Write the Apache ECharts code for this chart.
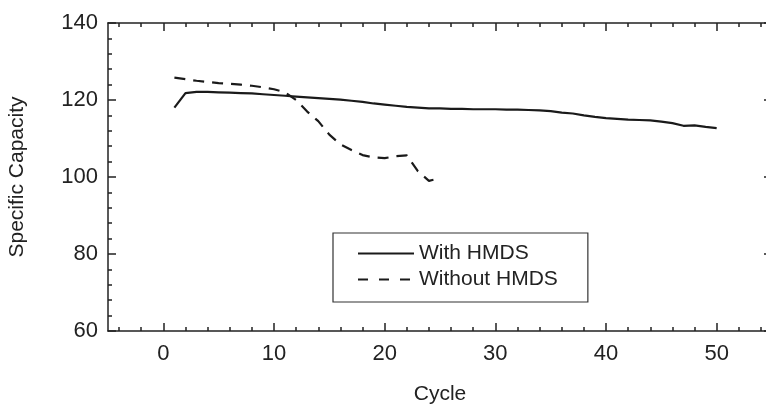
<!DOCTYPE html>
<html><head><meta charset="utf-8">
<script src="https://cdn.jsdelivr.net/npm/echarts@6/dist/echarts.min.js"></script>
<style>html,body{margin:0;padding:0;background:#fff}#c{width:766px;height:404px}</style>
</head><body><div id="c"></div>
<script>
const withCycles = [1,2,3,4,5,6,7,8,9,10,11,12,13,14,15,16,17,18,19,20,21,22,23,24,25,26,27,28,29,30,31,32,33,34,35,36,37,38,39,40,41,42,43,44,45,46,47,48,49,50];
const withHMDS = [118.0,121.8,122.1,122.1,122.0,121.9,121.8,121.7,121.5,121.3,121.1,120.9,120.7,120.5,120.3,120.1,119.8,119.5,119.1,118.8,118.5,118.2,118.0,117.8,117.8,117.7,117.7,117.6,117.6,117.6,117.5,117.5,117.4,117.3,117.1,116.7,116.5,116.0,115.6,115.3,115.1,114.9,114.8,114.7,114.4,114.0,113.3,113.4,113.0,112.7];
const withoutCycles = [1,2,3,4,5,6,7,8,9,10,11,12,13,14,15,16,17,18,19,20,21,22,23,24,25];
const withoutHMDS = [125.8,125.4,125.0,124.7,124.4,124.2,124.0,123.7,123.3,122.8,122.0,120.0,117.0,114.5,111.0,108.5,107.0,105.7,105.1,104.9,105.4,105.6,101.5,99.0,99.7];
const xMajorTicks = [0,10,20,30,40,50];
const xMinorTicks = [-4,-2,2,4,6,8,12,14,16,18,22,24,26,28,32,34,36,38,42,44,46,48,52,54];
const yMajorTicks = [60,80,100,120,140];
const yMinorTicks = [64,68,72,76,84,88,92,96,104,108,112,116,124,128,132,136];

const FONT = 'Liberation Sans';
const INK = '#222';
const chart = echarts.init(document.getElementById('c'), null, {renderer:'canvas'});

function xAx(pos, major, withLine, withLabel){
  return {
    type:'value', min:-5, max:55, position:pos,
    splitLine:{show:false},
    axisLine:{show:withLine, onZero:false, lineStyle:{color:INK, width:1.5}},
    axisTick:{show:true, inside:true, length: major?8:4, customValues: major?xMajorTicks:xMinorTicks, lineStyle:{color:INK, width:1.5}},
    axisLabel: withLabel ? {show:true, customValues:xMajorTicks, fontSize:22, color:INK, fontFamily:FONT, margin:12} : {show:false},
    name: withLabel ? 'Cycle' : '', nameLocation:'middle', nameGap:53,
    nameTextStyle:{fontSize:21, color:INK, fontFamily:FONT}
  };
}
function yAx(pos, major, withLine, withLabel){
  return {
    type:'value', min:60, max:140, position:pos,
    splitLine:{show:false},
    axisLine:{show:withLine, onZero:false, lineStyle:{color:INK, width:1.5}},
    axisTick:{show:true, inside:true, length: major?8:4, customValues: major?yMajorTicks:yMinorTicks, lineStyle:{color:INK, width:1.5}},
    axisLabel: withLabel ? {show:true, customValues:yMajorTicks, fontSize:22, color:INK, fontFamily:FONT, margin:10} : {show:false},
    name: withLabel ? 'Specific Capacity' : '', nameLocation:'middle', nameGap:80,
    nameTextStyle:{fontSize:21, color:INK, fontFamily:FONT}
  };
}

chart.setOption({
  animation:false,
  backgroundColor:'#fff',
  grid:{left:108, right:-6, top:23, bottom:73, outerBoundsMode:'none'},
  xAxis:[xAx('bottom',true,true,true), xAx('bottom',false,false,false), xAx('top',true,true,false), xAx('top',false,false,false)],
  yAxis:[yAx('left',true,true,true), yAx('left',false,false,false), yAx('right',true,true,false), yAx('right',false,false,false)],
  legend:{
    orient:'vertical', left:333, top:233,
    padding:[10,30,12,24], itemGap:5, itemWidth:56, itemHeight:21,
    borderColor:'#333', borderWidth:1.2, backgroundColor:'#fff',
    itemStyle:{opacity:0},
    textStyle:{fontSize:21, color:INK, fontFamily:FONT},
    data:[{name:'With HMDS'}, {name:'Without HMDS', lineStyle:{type:[10,11]}}]
  },
  series:[
    {name:'With HMDS', type:'line', xAxisIndex:0, yAxisIndex:0, symbol:'none', showSymbol:false,
     lineStyle:{color:'#1a1a1a', width:2.2, type:'solid'}, itemStyle:{color:'#1a1a1a'},
     data: withCycles.map((c,i)=>[c, withHMDS[i]])},
    {name:'Without HMDS', type:'line', xAxisIndex:0, yAxisIndex:0, symbol:'none', showSymbol:false,
     lineStyle:{color:'#1a1a1a', width:2.2, type:[11,8]}, itemStyle:{color:'#1a1a1a'},
     data: withoutCycles.map((c,i)=>[c, withoutHMDS[i]])}
  ]
});
</script></body></html>
